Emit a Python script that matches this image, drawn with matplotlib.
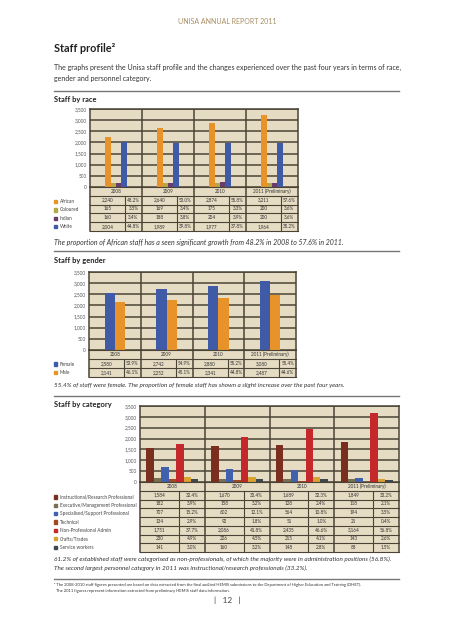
import matplotlib
matplotlib.use("Agg")
import matplotlib.pyplot as plt
import numpy as np
from matplotlib.patches import Rectangle

plt.rcParams['font.family'] = ['Lato', 'DejaVu Sans']

W, H = 453, 640
BG = '#e6dcc3'
GRID = '#4a4436'
TXT = '#333333'

years = ['2008', '2009', '2010', '2011 (Preliminary)']

# staff by race
race_names = ['African', 'Coloured', 'Indian', 'White']
race_vals = [[2240, 2640, 2874, 3211],
             [165, 169, 175, 200],
             [160, 188, 204, 200],
             [2004, 1989, 1977, 1964]]
race_pct = [[48.2, 53.0, 55.8, 57.6],
            [3.5, 3.4, 3.3, 3.6],
            [3.4, 3.8, 3.9, 3.6],
            [44.8, 39.8, 37.8, 35.2]]
race_colors = ['#e8932a', '#b3a845', '#6b3b6b', '#3f5aa6']

# staff by gender
gender_names = ['Female', 'Male']
gender_vals = [[2580, 2742, 2880, 3080],
               [2141, 2252, 2341, 2487]]
gender_pct = [[53.9, 54.9, 55.2, 55.4],
              [46.1, 45.1, 44.8, 44.6]]
gender_colors = ['#3f5aa6', '#e8932a']

# staff by category
cat_names = ['Instructional/Research Professional',
             'Executive/Management Professional',
             'Specialised/Support Professional',
             'Technical',
             'Non-Professional Admin',
             'Crafts/Trades',
             'Service workers']
cat_vals = [[1584, 1670, 1689, 1849],
            [182, 158, 128, 118],
            [707, 602, 564, 194],
            [134, 92, 51, 21],
            [1751, 2086, 2435, 3164],
            [230, 226, 215, 143],
            [141, 160, 148, 88]]
cat_pct = [[32.4, 33.4, 32.3, 33.2],
           [3.9, 3.2, 2.4, 2.1],
           [15.2, 12.1, 10.8, 3.5],
           [2.9, 1.8, 1.0, 0.4],
           [37.7, 41.8, 46.6, 56.8],
           [4.9, 4.5, 4.1, 2.6],
           [3.0, 3.2, 2.8, 1.5]]
cat_colors = ['#7a2e1f', '#75704f', '#4161ae', '#a24a26', '#c4282a', '#d9a032', '#3d4850']


fig = plt.figure(figsize=(W / 100, H / 100), dpi=100)
fig.patch.set_facecolor('white')


def px_axes(x0, y0, x1, y1):
    return fig.add_axes([x0 / W, 1 - y1 / H, (x1 - x0) / W, (y1 - y0) / H])


def ftext(x, y, s, **kw):
    kw.setdefault('color', TXT)
    kw.setdefault('va', 'center')
    fig.text(x / W, 1 - y / H, s, **kw)


def rule(y):
    fig.add_artist(plt.Line2D([54 / W, 399 / W], [1 - y / H] * 2, color='#777777', lw=1))


def bar_chart(rect, series, colors, bar_w):
    ax = px_axes(*rect)
    ax.set_facecolor(BG)
    n = len(series)
    x = np.arange(4) + 0.5
    for k, (vals, c) in enumerate(zip(series, colors)):
        ax.bar(x + (k - (n - 1) / 2) * bar_w, vals, bar_w, color=c, zorder=3, lw=0)
    ax.set_xlim(0, 4)
    ax.set_ylim(0, 3500)
    ticks = list(range(0, 3501, 500))
    ax.set_yticks(ticks)
    ax.set_yticklabels([f'{t:,}' for t in ticks])
    ax.set_xticks([])
    for t in ticks[1:]:
        ax.axhline(t, color=GRID, lw=1.1, zorder=1)
    for xv in [1, 2, 3]:
        ax.axvline(xv, color=GRID, lw=1.1, zorder=1)
    ax.tick_params(length=0, labelsize=3.4, pad=2.5, colors='#555555')
    for sp in ax.spines.values():
        sp.set_color(GRID)
        sp.set_linewidth(1.1)
    return ax


def data_table(rect, vals, pcts, split):
    ax = px_axes(*rect)
    n = len(vals)
    ax.set_xlim(0, 4)
    ax.set_ylim(n + 1, 0)
    ax.axis('off')
    ax.add_patch(Rectangle((0, 0), 4, n + 1, color=BG, zorder=0))
    for r in range(n + 2):
        ax.plot([0, 4], [r, r], color=GRID, lw=0.8, clip_on=False)
    for i in range(5):
        ax.plot([i, i], [0, n + 1], color=GRID, lw=1.1, clip_on=False)
    for i in range(4):
        ax.plot([i + split] * 2, [1, n + 1], color=GRID, lw=0.8, clip_on=False)
        ax.text(i + 0.5, 0.5, years[i], ha='center', va='center', fontsize=3.3, color=TXT)
        for r in range(n):
            ax.text(i + split / 2, r + 1.5, f'{vals[r][i]:,}', ha='center', va='center',
                    fontsize=3.3, color=TXT)
            ax.text(i + split + (1 - split) / 2, r + 1.5, f'{pcts[r][i]:.1f}%', ha='center',
                    va='center', fontsize=3.3, color=TXT)
    return ax


def legend(names, colors, y_first, step, x_box=54):
    for k, (name, c) in enumerate(zip(names, colors)):
        y = y_first + k * step
        fig.add_artist(Rectangle((x_box / W, 1 - (y + 1.6) / H), 3.2 / W, 3.2 / H,
                                 color=c, transform=fig.transFigure))
        ftext(x_box + 6, y, name, fontsize=3.4, color='#444444')


# header texts
ftext(227, 21, 'UNISA ANNUAL REPORT 2011', ha='center', fontsize=5, color='#a88f63')
ftext(54, 48, 'Staff profile²', fontsize=7.8, fontweight='bold', color='#222222')
ftext(54, 67, 'The graphs present the Unisa staff profile and the changes experienced over the past four years in terms of race,',
      fontsize=5.0)
ftext(54, 78, 'gender and personnel category.', fontsize=5.0)
rule(91)

# race
ftext(54, 99.5, 'Staff by race', fontsize=5.4, fontweight='bold', color='#222222')
bar_chart((90, 109, 298, 187), race_vals, race_colors, 0.105)
data_table((90, 187, 298, 231), race_vals, race_pct, 0.67)
legend(race_names, race_colors, 201.5, 8.4)
ftext(54, 242, 'The proportion of African staff has a seen significant growth from 48.2% in 2008 to 57.6% in 2011.',
      fontsize=5.0, style='italic')
rule(251)

# gender
ftext(54, 260, 'Staff by gender', fontsize=5.4, fontweight='bold', color='#222222')
bar_chart((89, 272, 296, 350), gender_vals, gender_colors, 0.2)
data_table((89, 350, 296, 377), gender_vals, gender_pct, 0.68)
legend(gender_names, gender_colors, 364, 8.6)
ftext(54, 385.5, '55.4% of staff were female. The proportion of female staff has shown a slight increase over the past four years.',
      fontsize=4.55, style='italic')
rule(396)

# category
ftext(54, 405, 'Staff by category', fontsize=5.4, fontweight='bold', color='#222222')
bar_chart((140, 406, 399, 482), cat_vals, cat_colors, 0.115)
data_table((140, 482, 399, 552), cat_vals, cat_pct, 0.6)
legend(cat_names, cat_colors, 497, 8.35)
ftext(54, 559, '61.2% of established staff were categorised as non-professionals, of which the majority were in administration positions (56.8%).',
      fontsize=4.6, style='italic')
ftext(54, 568.5, 'The second largest personnel category in 2011 was instructional/research professionals (33.2%).',
      fontsize=4.6, style='italic')
rule(579)

ftext(54, 585, '² The 2008-2010 staff figures presented are based on data extracted from the final audited HEMIS submissions to the Department of Higher Education and Training (DHET).',
      fontsize=3.0)
ftext(56, 591, 'The 2011 figures represent information extracted from preliminary HEMIS staff data information.',
      fontsize=3.0)
ftext(227, 600, '|   12   |', ha='center', fontsize=6, color='#444444')

fig.savefig('out.png', dpi=100, facecolor='white')
